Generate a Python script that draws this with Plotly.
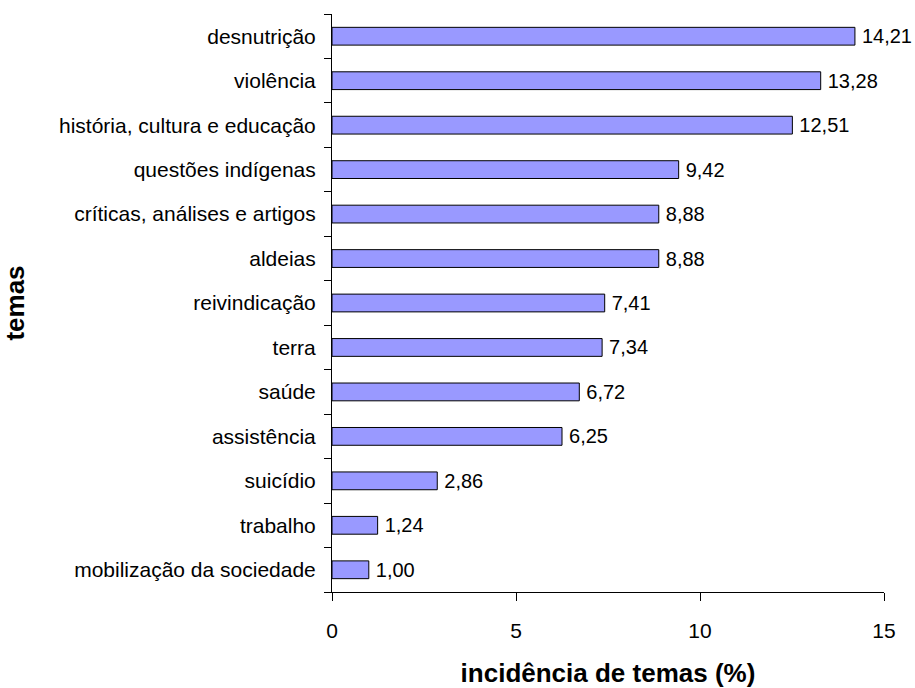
import plotly.graph_objects as go

categories = ["mobilização da sociedade", "trabalho", "suicídio", "assistência", "saúde",
              "terra", "reivindicação", "aldeias", "críticas, análises e artigos",
              "questões indígenas", "história, cultura e educação", "violência", "desnutrição"]
values = [1.00, 1.24, 2.86, 6.25, 6.72, 7.34, 7.41, 8.88, 8.88, 9.42, 12.51, 13.28, 14.21]
x_ticks = [0, 5, 10, 15]

font_family = "Liberation Sans, Arial, sans-serif"

fig = go.Figure(go.Bar(
    y=categories, x=values, orientation="h",
    marker=dict(color="#9999ff", line=dict(color="#000000", width=1)),
    width=0.4,
    texttemplate="\u2009%{x:.2f}", textposition="outside",
    constraintext="none",
    textfont=dict(family=font_family, size=20, color="#000000"),
    cliponaxis=False,
))

fig.update_layout(
    width=915, height=688,
    margin=dict(l=332, r=31, t=14, b=96),
    plot_bgcolor="white", paper_bgcolor="white",
    separators=",.",
    showlegend=False,
    font=dict(family=font_family, size=21, color="#000000"),
    xaxis=dict(
        range=[0, 15], tickvals=x_ticks, ticks="outside", ticklen=8, tickcolor="black",
        showline=True, linecolor="black", linewidth=1, showgrid=False, zeroline=False,
        tickfont=dict(size=21), ticklabelstandoff=12,
        title=dict(text="<b>incidência de temas (%)</b>", font=dict(size=26), standoff=25),
        automargin=False,
    ),
    yaxis=dict(
        range=[-0.5, 12.5], ticks="outside", tickson="boundaries", ticklen=7, tickcolor="black",
        showline=True, linecolor="black", linewidth=1, showgrid=False, zeroline=False,
        tickfont=dict(size=21), ticklabelstandoff=11,
        title=dict(text="<b>temas</b>", font=dict(size=26), standoff=35),
        automargin=False,
    ),
)

fig.write_html("out.html", config={"displayModeBar": False},
               post_script="document.body.style.margin='0';document.body.style.overflow='hidden';")
